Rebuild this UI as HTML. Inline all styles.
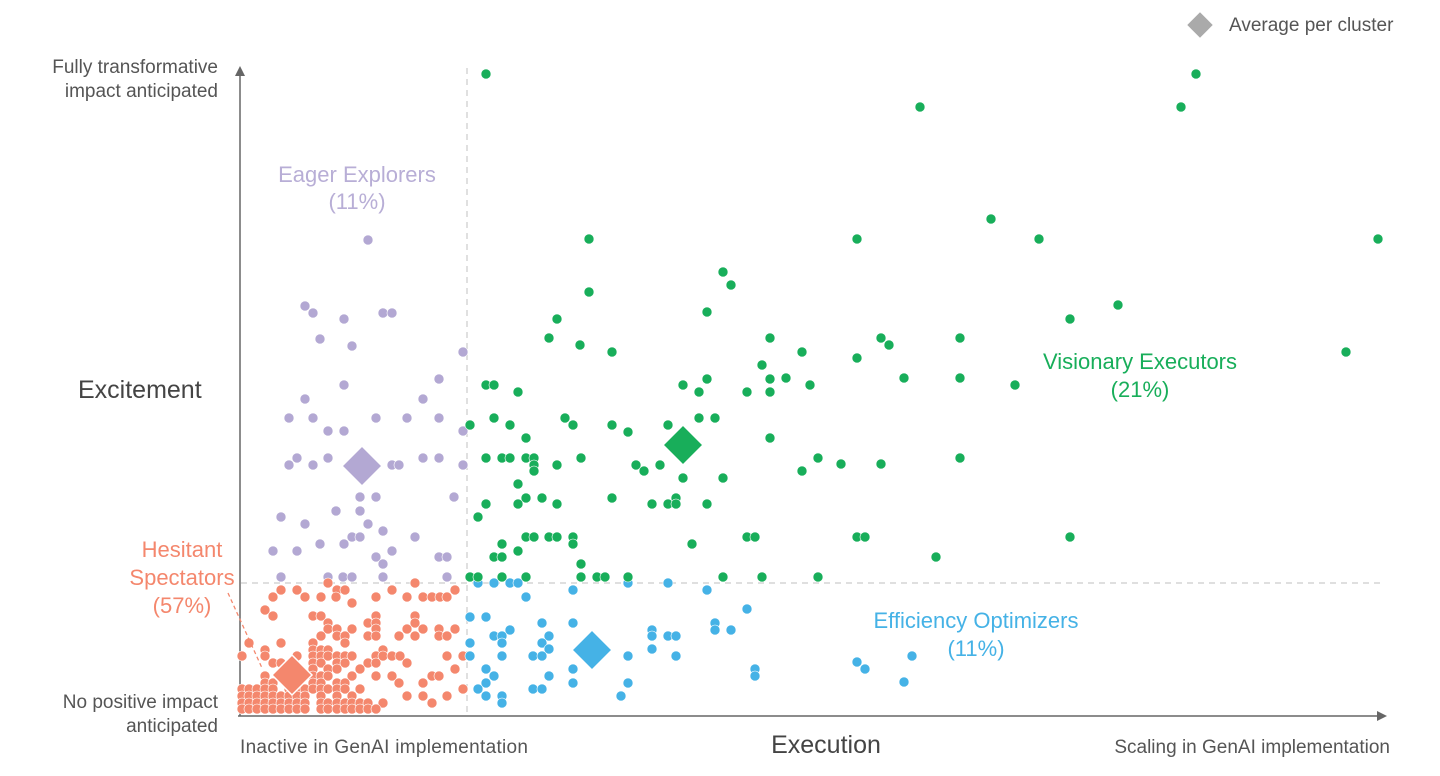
<!DOCTYPE html>
<html><head><meta charset="utf-8">
<style>
html,body{margin:0;padding:0;background:#fff;}
body{width:1440px;height:771px;overflow:hidden;font-family:"Liberation Sans",sans-serif;}
svg text{font-family:"Liberation Sans",sans-serif;}
</style></head>
<body>
<svg id="chart" width="1440" height="771" viewBox="0 0 1440 771" xmlns="http://www.w3.org/2000/svg">
  <g>
    <line x1="240" y1="716" x2="240" y2="72" stroke="#666" stroke-width="1.5"/>
    <polygon points="235,76 240,66 245,76" fill="#666"/>
    <line x1="238" y1="716" x2="1380" y2="716" stroke="#666" stroke-width="1.5"/>
    <polygon points="1377,711 1387,716 1377,721" fill="#666"/>
    <line x1="467" y1="68" x2="467" y2="715" stroke="#ccc" stroke-width="1.2" stroke-dasharray="6,5"/>
    <line x1="241" y1="583" x2="1385" y2="583" stroke="#ccc" stroke-width="1.2" stroke-dasharray="6,5"/>
  </g>
  <g fill="#555" font-size="19">
    <text x="218" y="73" text-anchor="end">Fully transformative</text>
    <text x="218" y="97" text-anchor="end">impact anticipated</text>
    <text x="218" y="708" text-anchor="end">No positive impact</text>
    <text x="218" y="732" text-anchor="end">anticipated</text>
    <text x="78" y="398" font-size="25" fill="#444">Excitement</text>
    <text x="826" y="753" font-size="25" fill="#444" text-anchor="middle">Execution</text>
    <text x="240" y="753" textLength="288">Inactive in GenAI implementation</text>
    <text x="1390" y="753" text-anchor="end">Scaling in GenAI implementation</text>
  </g>
  <g>
    <rect x="1191" y="16" width="18" height="18" fill="#aaa" transform="rotate(45 1200 25)"/>
    <text x="1229" y="31" font-size="19" fill="#555">Average per cluster</text>
  </g>
  <g id="points"></g>
  <g id="diamonds"></g>
  <g font-size="22" text-anchor="middle">
    <text x="357" y="182" fill="#b8aed6">Eager Explorers</text>
    <text x="357" y="209" fill="#b8aed6">(11%)</text>
    <text x="1140" y="369" fill="#18ae5a">Visionary Executors</text>
    <text x="1140" y="397" fill="#18ae5a">(21%)</text>
    <text x="976" y="628" fill="#45b2e6">Efficiency Optimizers</text>
    <text x="976" y="656" fill="#45b2e6">(11%)</text>
    <text x="182" y="557" fill="#f4876d">Hesitant</text>
    <text x="182" y="585" fill="#f4876d">Spectators</text>
    <text x="182" y="613" fill="#f4876d">(57%)</text>
    <line x1="228" y1="593" x2="262" y2="668" stroke="#f4876d" stroke-width="1.3" stroke-dasharray="4,3"/>
  </g>
</svg>
<script>
// Data: execution score (x) and excitement score (y), in scale units (x 0..1145, y 0..648)
const purpleX = [128,65,73,143,152,104,80,112,223,199,104,65,183,49,73,136,167,199,88,104,223,57,88,183,199,49,73,152,159,223,120,136,214,96,120,41,65,128,143,112,120,175,80,104,33,57,152,136,199,207,143,41,88,103,112,143,207];
const purpleY = [476,410,403,403,403,397,377,370,364,337,331,317,317,298,298,298,298,298,285,285,285,258,258,258,258,251,251,251,251,251,219,219,219,205,205,199,192,192,185,179,179,179,172,172,165,165,165,159,159,159,152,139,139,139,139,139,139];

const orangeRows = [133,126,119,113,106,100,93,87,80,73,66,60,53,47,40,33,27,20,13,7];
const orangeRowX = [
 [88,175],
 [41,57,97,105,152,215],
 [33,65,81,96,136,167,183,192,200,207],
 [112],
 [25],
 [33,73,81,136,175],
 [88,128,136,175],
 [88,97,112,136,167,183,199,215],
 [81,97,105,128,136,159,175,199,207],
 [9,41,73,105],
 [25,73,81,88,143],
 [2,25,57,73,81,88,97,105,112,136,143,152,160,207,223],
 [33,41,73,81,97,105,128,136,167],
 [73,88,97,120,215],
 [25,73,81,88,112,136,152,192,199],
 [25,33,73,81,97,105,159,183],
 [2,9,17,25,33,49,57,65,73,81,88,97,105,120,223],
 [2,9,17,25,33,41,49,57,65,81,97,112,167,183,207],
 [2,9,17,25,33,41,49,57,65,81,88,97,105,112,120,128,143,192],
 [2,9,17,25,33,41,49,57,65,81,88,97,105,112,120,128,136]
];

const greenX = [246,680,956,941,751,799,617,1138,349,483,491,349,878,467,317,830,309,530,641,720,649,340,372,562,617,1106,522,467,530,664,720,546,570,775,246,254,443,278,459,507,530,254,325,459,475,230,270,333,372,428,388,286,530,246,262,270,286,294,341,294,317,396,420,294,404,443,483,278,286,302,372,436,246,278,317,412,428,436,467,238,286,294,309,317,333,507,515,262,333,452,278,254,262,341,230,238,262,286,341,357,365,388,483,522,562,578,601,641,720,617,625,696,830,578];
const greenY = [642,609,642,609,497,477,477,477,477,444,431,424,411,404,397,397,378,378,378,378,371,371,364,364,358,364,351,337,337,338,338,338,331,331,331,331,331,324,324,324,324,298,298,298,298,291,291,291,291,291,284,278,278,258,258,258,258,258,258,251,251,251,251,245,245,238,238,232,218,218,218,218,212,212,212,212,212,212,212,199,179,179,179,179,179,179,179,172,172,172,165,159,159,152,139,139,139,139,139,139,139,139,139,139,245,258,252,252,258,179,179,159,179,139];

const blueX = [238,254,270,278,388,428,333,467,286,507,230,246,302,333,475,270,412,475,491,254,262,309,412,428,436,230,262,302,309,412,230,262,293,302,388,436,246,333,515,254,309,515,246,333,388,238,293,302,246,262,381,262,617,625,672,664];
const blueY = [133,133,133,133,133,133,126,126,119,107,99,99,93,93,93,86,86,86,86,80,80,80,80,80,80,73,73,73,67,67,60,60,60,60,60,60,47,47,47,40,40,40,33,33,33,27,27,27,20,20,20,13,54,47,60,34];

const clusterNames = ["eager-explorers","visionary-executors","efficiency-optimizers","hesitant-spectators"];
const clusterAvgX = [122,443,352,52];
const clusterAvgY = [250,271,66,41];
const clusterColors = ["#b3a8d3","#18ae5a","#45b2e6","#f4876d"];

const X0 = 240, Y0 = 716, XPX = 1145, YPX = 648, XMAX = 1145, YMAX = 648;
function xS(v){ return X0 + v * XPX / XMAX; }
function yS(v){ return Y0 - v * YPX / YMAX; }

const NS = "http://www.w3.org/2000/svg";
const pts = document.getElementById("points");
function dot(x, y, color, name){
  const c = document.createElementNS(NS, "circle");
  c.setAttribute("cx", xS(x));
  c.setAttribute("cy", yS(y));
  c.setAttribute("r", 5);
  c.setAttribute("fill", color);
  c.setAttribute("stroke", "#fff");
  c.setAttribute("stroke-width", 0.6);
  
  
  pts.appendChild(c);
}
for (let i = 0; i < purpleX.length; i++) dot(purpleX[i], purpleY[i], "#b3a8d3", "eager-explorer-point");
for (let r = 0; r < orangeRows.length; r++) for (const x of orangeRowX[r]) dot(x, orangeRows[r], "#f4876d", "hesitant-spectator-point");
for (let i = 0; i < blueX.length; i++) dot(blueX[i], blueY[i], "#45b2e6", "efficiency-optimizer-point");
for (let i = 0; i < greenX.length; i++) dot(greenX[i], greenY[i], "#18ae5a", "visionary-executor-point");

const dg = document.getElementById("diamonds");
for (let i = 0; i < clusterAvgX.length; i++){
  const cx = xS(clusterAvgX[i]), cy = yS(clusterAvgY[i]), h = 20;
  const p = document.createElementNS(NS, "polygon");
  p.setAttribute("points", `${cx},${cy-h} ${cx+h},${cy} ${cx},${cy+h} ${cx-h},${cy}`);
  p.setAttribute("fill", clusterColors[i]);
  p.setAttribute("stroke", "#fff");
  p.setAttribute("stroke-width", 1.5);
  
  
  dg.appendChild(p);
}
</script>
</body></html>
